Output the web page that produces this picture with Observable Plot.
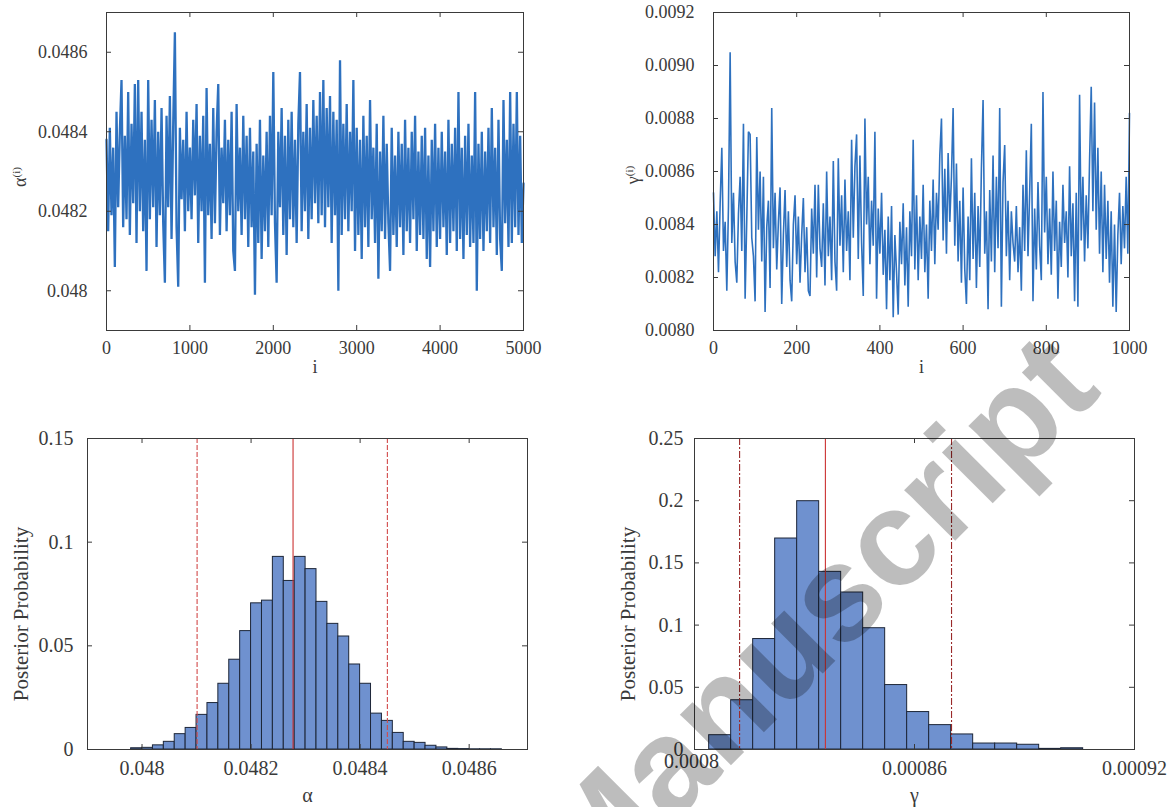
<!DOCTYPE html>
<html>
<head>
<meta charset="utf-8">
<script src="https://cdn.jsdelivr.net/npm/d3@7"></script>
<script src="https://cdn.jsdelivr.net/npm/@observablehq/plot@0.6"></script>
<style>
  html, body { margin: 0; padding: 0; background: #fff; }
  #root { position: relative; width: 1169px; height: 807px; overflow: hidden; background: #fff; }
  #root svg { overflow: visible; }
</style>
</head>
<body>
<div id="root"></div>
<script>
// ---------------- DATA ----------------
const alphaStep = 20;
const alphaTrace = [
  0.04838, 0.04815, 0.04841, 0.04819, 0.04836, 0.04806, 0.04845, 0.04821, 0.04840, 0.04853, 0.04816,
  0.04839, 0.04818, 0.04850, 0.04814, 0.04842, 0.04822, 0.04852, 0.04812, 0.04853, 0.04820,
  0.04845, 0.04815, 0.04838, 0.04805, 0.04853, 0.04818, 0.04843, 0.04821, 0.04848, 0.04811,
  0.04840, 0.04819, 0.04846, 0.04817, 0.04802, 0.04844, 0.04821, 0.04849, 0.04813, 0.04842,
  0.04865, 0.04816, 0.04801, 0.04841, 0.04823, 0.04838, 0.04815, 0.04845, 0.04820, 0.04836,
  0.04818, 0.04843, 0.04824, 0.04847, 0.04812, 0.04839, 0.04820, 0.04844, 0.04802, 0.04851,
  0.04819, 0.04837, 0.04813, 0.04846, 0.04817, 0.04840, 0.04852, 0.04814, 0.04836, 0.04822,
  0.04843, 0.04815, 0.04838, 0.04819, 0.04845, 0.04810, 0.04805, 0.04847, 0.04820, 0.04836,
  0.04814, 0.04844, 0.04818, 0.04839, 0.04811, 0.04841, 0.04816, 0.04835, 0.04799, 0.04837,
  0.04812, 0.04843, 0.04808, 0.04834, 0.04815, 0.04840, 0.04811, 0.04844, 0.04819, 0.04855,
  0.04817, 0.04802, 0.04840, 0.04821, 0.04846, 0.04814, 0.04839, 0.04809, 0.04843, 0.04818,
  0.04845, 0.04816, 0.04838, 0.04812, 0.04842, 0.04855, 0.04815, 0.04840, 0.04820, 0.04847,
  0.04813, 0.04841, 0.04818, 0.04848, 0.04822, 0.04844, 0.04817, 0.04850, 0.04819, 0.04853,
  0.04816, 0.04846, 0.04821, 0.04849, 0.04812, 0.04845, 0.04819, 0.04843, 0.04800, 0.04858,
  0.04814, 0.04842, 0.04818, 0.04847, 0.04815, 0.04840, 0.04820, 0.04853, 0.04810, 0.04841,
  0.04814, 0.04838, 0.04808, 0.04844, 0.04816, 0.04839, 0.04811, 0.04848, 0.04818, 0.04836,
  0.04812, 0.04842, 0.04803, 0.04835, 0.04815, 0.04844, 0.04813, 0.04837, 0.04817, 0.04805,
  0.04841, 0.04814, 0.04834, 0.04811, 0.04840, 0.04816, 0.04837, 0.04809, 0.04843, 0.04815,
  0.04836, 0.04812, 0.04840, 0.04818, 0.04844, 0.04810, 0.04835, 0.04814, 0.04839, 0.04813,
  0.04841, 0.04808, 0.04834, 0.04806, 0.04838, 0.04815, 0.04842, 0.04811, 0.04836, 0.04813,
  0.04840, 0.04816, 0.04835, 0.04809, 0.04843, 0.04812, 0.04837, 0.04815, 0.04841, 0.04810,
  0.04850, 0.04813, 0.04836, 0.04808, 0.04839, 0.04814, 0.04842, 0.04811, 0.04834, 0.04812,
  0.04850, 0.04800, 0.04837, 0.04813, 0.04840, 0.04810, 0.04835, 0.04815, 0.04841, 0.04812,
  0.04846, 0.04816, 0.04836, 0.04809, 0.04843, 0.04813, 0.04805, 0.04848, 0.04817, 0.04838,
  0.04811, 0.04850, 0.04812, 0.04842, 0.04816, 0.04850, 0.04814, 0.04839, 0.04812, 0.04827
];

// MCMC trace of gamma (sampled every gammaStep iterations)
const gammaStep = 4;
const gammaTrace = [
  0.00852, 0.00828, 0.00845, 0.00822, 0.00848, 0.00869, 0.00830, 0.00841, 0.00815, 0.00847,
  0.00905, 0.00833, 0.00852, 0.00826, 0.00818, 0.00844, 0.00858, 0.00830, 0.00878, 0.00812,
  0.00842, 0.00875, 0.00874, 0.00835, 0.00828, 0.00811, 0.00873, 0.00838, 0.00860, 0.00826,
  0.00858, 0.00807, 0.00839, 0.00849, 0.00816, 0.00884, 0.00831, 0.00852, 0.00823, 0.00841,
  0.00854, 0.00810, 0.00836, 0.00853, 0.00824, 0.00845, 0.00819, 0.00811, 0.00840, 0.00851,
  0.00825, 0.00843, 0.00818, 0.00836, 0.00850, 0.00822, 0.00839, 0.00815, 0.00813, 0.00846,
  0.00829, 0.00855, 0.00820, 0.00855, 0.00831, 0.00824, 0.00848, 0.00817, 0.00860, 0.00828,
  0.00843, 0.00819, 0.00864, 0.00826, 0.00815, 0.00865, 0.00832, 0.00851, 0.00822, 0.00857,
  0.00830, 0.00845, 0.00819, 0.00872, 0.00835, 0.00862, 0.00874, 0.00827, 0.00866, 0.00833,
  0.00813, 0.00880, 0.00840, 0.00858, 0.00825, 0.00849, 0.00832, 0.00875, 0.00812, 0.00846,
  0.00829, 0.00852, 0.00821, 0.00838, 0.00808, 0.00843, 0.00819, 0.00847, 0.00805, 0.00836,
  0.00822, 0.00806, 0.00841, 0.00825, 0.00848, 0.00817, 0.00839, 0.00809, 0.00845, 0.00828,
  0.00872, 0.00823, 0.00851, 0.00819, 0.00843, 0.00827, 0.00855, 0.00822, 0.00840, 0.00812,
  0.00849, 0.00830, 0.00857, 0.00825, 0.00852, 0.00838, 0.00866, 0.00880, 0.00834, 0.00861,
  0.00829, 0.00867, 0.00841, 0.00858, 0.00884, 0.00832, 0.00863, 0.00826, 0.00849, 0.00818,
  0.00854, 0.00823, 0.00810, 0.00843, 0.00819, 0.00865, 0.00827, 0.00852, 0.00816, 0.00847,
  0.00824, 0.00861, 0.00887, 0.00829, 0.00845, 0.00808, 0.00853, 0.00826, 0.00866, 0.00822,
  0.00858, 0.00831, 0.00884, 0.00809, 0.00856, 0.00870, 0.00828, 0.00849, 0.00819, 0.00845,
  0.00833, 0.00826, 0.00847, 0.00822, 0.00839, 0.00815, 0.00855, 0.00830, 0.00868, 0.00828,
  0.00852, 0.00878, 0.00811, 0.00846, 0.00823, 0.00856, 0.00832, 0.00819, 0.00890, 0.00837,
  0.00858, 0.00825, 0.00846, 0.00821, 0.00860, 0.00830, 0.00849, 0.00812, 0.00841, 0.00824,
  0.00855, 0.00833, 0.00845, 0.00820, 0.00862, 0.00828, 0.00848, 0.00811, 0.00852, 0.00809,
  0.00889, 0.00834, 0.00858, 0.00826, 0.00851, 0.00831, 0.00864, 0.00892, 0.00845, 0.00886,
  0.00838, 0.00869, 0.00829, 0.00860, 0.00822, 0.00855, 0.00827, 0.00849, 0.00818, 0.00845,
  0.00809, 0.00840, 0.00807, 0.00836, 0.00852, 0.00825, 0.00847, 0.00831, 0.00858, 0.00829, 0.00882
];

// Posterior histogram of alpha
const alphaBinEdges = [0.04798, 0.04800, 0.04802, 0.04804, 0.04806, 0.04808, 0.04810, 0.04812,
  0.04814, 0.04816, 0.04818, 0.04820, 0.04822, 0.04824, 0.04826, 0.04828, 0.04830, 0.04832,
  0.04834, 0.04836, 0.04838, 0.04840, 0.04842, 0.04844, 0.04846, 0.04848, 0.04850, 0.04852,
  0.04854, 0.04856, 0.04858, 0.04860, 0.04862, 0.04864, 0.04866];
const alphaProb = [0.0006, 0.0008, 0.0020, 0.0037, 0.0074, 0.0104, 0.0167, 0.0224, 0.0317,
  0.0433, 0.0571, 0.0705, 0.0718, 0.0929, 0.0813, 0.0929, 0.0870, 0.0712, 0.0606, 0.0545,
  0.0410, 0.0317, 0.0173, 0.0138, 0.0080, 0.0037, 0.0032, 0.0018, 0.0010, 0.0003, 0.0002,
  0.0001, 0.0001, 0.0001];
const alphaInterval = [0.048101, 0.048277, 0.048450]; // lower, mean, upper

// Posterior histogram of gamma
const gammaBinEdges = [0.000804, 0.000810, 0.000816, 0.000822, 0.000828, 0.000834, 0.000840,
  0.000846, 0.000852, 0.000858, 0.000864, 0.000870, 0.000876, 0.000882, 0.000888, 0.000894,
  0.000900, 0.000906];
const gammaProb = [0.0115, 0.0396, 0.0888, 0.1696, 0.1996, 0.1428, 0.1262, 0.0975, 0.0518,
  0.0301, 0.0196, 0.0121, 0.0048, 0.0048, 0.0038, 0.0005, 0.0010];
const gammaInterval = [0.0008123, 0.0008357, 0.0008701];

// Tick values and labels
const tAlphaXTicks = [0, 1000, 2000, 3000, 4000, 5000];
const tAlphaXLabels = ["0", "1000", "2000", "3000", "4000", "5000"];
const tAlphaYTicks = [0.048, 0.0482, 0.0484, 0.0486];
const tAlphaYLabels = ["0.048", "0.0482", "0.0484", "0.0486"];
const tGammaXTicks = [0, 200, 400, 600, 800, 1000];
const tGammaXLabels = ["0", "200", "400", "600", "800", "1000"];
const tGammaYTicks = [0.008, 0.0082, 0.0084, 0.0086, 0.0088, 0.009, 0.0092];
const tGammaYLabels = ["0.0080", "0.0082", "0.0084", "0.0086", "0.0088", "0.0090", "0.0092"];
const hAlphaXTicks = [0.048, 0.0482, 0.0484, 0.0486];
const hAlphaXLabels = ["0.048", "0.0482", "0.0484", "0.0486"];
const hAlphaYTicks = [0, 0.05, 0.1, 0.15];
const hAlphaYLabels = ["0", "0.05", "0.1", "0.15"];
const hGammaXTicks = [0.0008, 0.00086, 0.00092];
const hGammaXLabels = ["0.0008", "0.00086", "0.00092"];
const hGammaYTicks = [0, 0.05, 0.1, 0.15, 0.2, 0.25];
const hGammaYLabels = ["0", "0.05", "0.1", "0.15", "0.2", "0.25"];

// ---------------- STYLE ----------------
const SERIF = "'Liberation Serif', 'Times New Roman', Times, 'DejaVu Serif', 'Noto Serif', serif";
const INK = "#3a3a3a";
const TXT = "#3a3a3a";
const TRACE = "#2e71bf";
const BAR = "#6f91cf";
const BAR_EDGE = "#1d2638";
const RED = "#cc3333";

const root = document.getElementById("root");
function place(node, left, top) {
  node.style.position = "absolute";
  node.style.left = left + "px";
  node.style.top = top + "px";
  root.appendChild(node);
}
const fmt = (ticks, labels) => d => labels[ticks.indexOf(d)];

function boxTicks(xd, yd, xt, yt, wpx, hpx, len = 5) {
  const ky = (yd[1] - yd[0]) * len / hpx, kx = (xd[1] - xd[0]) * len / wpx;
  const o = {stroke: INK, strokeWidth: 1};
  return [
    Plot.ruleX(xt, {x: d => d, y1: yd[0], y2: yd[0] + ky, ...o}),
    Plot.ruleX(xt, {x: d => d, y1: yd[1], y2: yd[1] - ky, ...o}),
    Plot.ruleY(yt, {y: d => d, x1: xd[0], x2: xd[0] + kx, ...o}),
    Plot.ruleY(yt, {y: d => d, x1: xd[1], x2: xd[1] - kx, ...o})
  ];
}

function tracePanel({width, height, ml, mr, mt, mb, xd, yd, xt, xl, yt, yl, rows, fs, sw}) {
  const wpx = width - ml - mr, hpx = height - mt - mb;
  return Plot.plot({
    width, height, marginLeft: ml, marginRight: mr, marginTop: mt, marginBottom: mb,
    style: {fontFamily: SERIF, fontSize: fs + "px", color: TXT, background: "transparent", overflow: "visible"},
    x: {domain: xd}, y: {domain: yd},
    marks: [
      Plot.line(rows, {x: "i", y: "v", stroke: TRACE, strokeWidth: sw, strokeLinejoin: "bevel"}),
      Plot.frame({stroke: INK, strokeWidth: 1}),
      ...boxTicks(xd, yd, xt, yt, wpx, hpx),
      Plot.axisX(xt, {anchor: "bottom", tickSize: 0, tickPadding: 11, tickFormat: fmt(xt, xl), label: null, fontSize: fs}),
      Plot.axisY(yt, {anchor: "left", tickSize: 0, tickPadding: 19, tickFormat: fmt(yt, yl), label: null, fontSize: fs}),
      Plot.text(["i"], {frameAnchor: "bottom", lineAnchor: "middle", textAnchor: "middle", dy: 37, text: d => d, fontSize: fs, fill: TXT})
    ]
  });
}

function histPanel({width, height, ml, mr, mt, mb, xd, yd, xt, xl, yt, yl, rows, ci, ciDash, ciColor, xlab, fs, ypad, firstUp}) {
  const wpx = width - ml - mr, hpx = height - mt - mb;
  const xMain = firstUp ? xt.slice(1) : xt;
  const axes = [
    Plot.axisX(xMain, {anchor: "bottom", tickSize: 0, tickPadding: 11, tickFormat: fmt(xt, xl), label: null, fontSize: fs}),
    Plot.axisY(yt, {anchor: "left", tickSize: 0, tickPadding: ypad, tickFormat: fmt(yt, yl), label: null, fontSize: fs})
  ];
  if (firstUp) {
    axes.push(Plot.axisX(xt.slice(0, 1), {anchor: "bottom", tickSize: 0, tickPadding: 4, tickFormat: fmt(xt, xl), label: null, fontSize: fs, dx: -3}));
  }
  return Plot.plot({
    width, height, marginLeft: ml, marginRight: mr, marginTop: mt, marginBottom: mb,
    style: {fontFamily: SERIF, fontSize: fs + "px", color: TXT, background: "transparent", overflow: "visible"},
    x: {domain: xd}, y: {domain: yd},
    marks: [
      Plot.rectY(rows, {x1: "x1", x2: "x2", y: "p", fill: BAR, stroke: BAR_EDGE, strokeWidth: 1}),
      Plot.ruleX([ci[0], ci[2]], {x: d => d, stroke: ciColor, strokeWidth: 1.1, strokeDasharray: ciDash}),
      Plot.ruleX([ci[1]], {x: d => d, stroke: RED, strokeWidth: 1.1}),
      Plot.frame({stroke: INK, strokeWidth: 1}),
      ...boxTicks(xd, yd, xt, yt, wpx, hpx),
      ...axes,
      Plot.text([xlab], {frameAnchor: "bottom", lineAnchor: "middle", textAnchor: "middle", dy: 46, text: d => d, fontSize: fs, fill: TXT}),
      Plot.text(["Posterior Probability"], {frameAnchor: "left", textAnchor: "middle", lineAnchor: "middle", rotate: -90, dx: -66, dy: 20, text: d => d, fontSize: 21, fill: TXT})
    ]
  });
}

const alphaRows = alphaTrace.map((v, k) => ({i: k * alphaStep, v}));
const gammaRows = gammaTrace.map((v, k) => ({i: k * gammaStep, v}));
const alphaBins = alphaProb.map((p, k) => ({x1: alphaBinEdges[k], x2: alphaBinEdges[k + 1], p}));
const gammaBins = gammaProb.map((p, k) => ({x1: gammaBinEdges[k], x2: gammaBinEdges[k + 1], p}));

// Top-left: alpha trace
place(tracePanel({width: 580, height: 400, ml: 106, mr: 57, mt: 12, mb: 70,
  xd: [0, 5000], yd: [0.0479, 0.0487], xt: tAlphaXTicks, xl: tAlphaXLabels,
  yt: tAlphaYTicks, yl: tAlphaYLabels, rows: alphaRows, fs: 18, sw: 2.3}), 0, 0);

// Top-right: gamma trace
place(tracePanel({width: 589, height: 400, ml: 133, mr: 40, mt: 12, mb: 70,
  xd: [0, 1000], yd: [0.008, 0.0092], xt: tGammaXTicks, xl: tGammaXLabels,
  yt: tGammaYTicks, yl: tGammaYLabels, rows: gammaRows, fs: 18, sw: 1.6}), 580, 0);

// Bottom-left: alpha histogram
place(histPanel({width: 580, height: 407, ml: 87, mr: 53, mt: 38, mb: 58,
  xd: [0.0479, 0.048707], yd: [0, 0.15], xt: hAlphaXTicks, xl: hAlphaXLabels,
  yt: hAlphaYTicks, yl: hAlphaYLabels, rows: alphaBins, ci: alphaInterval,
  ciDash: "5,2", ciColor: "#d24a4a", xlab: "α", fs: 20, ypad: 14, firstUp: false}), 0, 400);

// Bottom-right: gamma histogram
place(histPanel({width: 589, height: 407, ml: 114, mr: 35, mt: 38, mb: 58,
  xd: [0.0008, 0.00092], yd: [0, 0.25], xt: hGammaXTicks, xl: hGammaXLabels,
  yt: hGammaYTicks, yl: hGammaYLabels, rows: gammaBins, ci: gammaInterval,
  ciDash: "7,2,2,2", ciColor: "#9a2a2a", xlab: "γ", fs: 20, ypad: 11, firstUp: true}), 580, 400);

// Rotated y-axis titles with superscripts for the trace panels
function yLabel(html, cx, cy, size) {
  const d = document.createElement("div");
  d.innerHTML = html;
  Object.assign(d.style, {
    position: "absolute", left: cx + "px", top: cy + "px",
    transform: "translate(-50%, -50%) rotate(-90deg)",
    fontFamily: SERIF, fontSize: size + "px", color: TXT, whiteSpace: "nowrap", lineHeight: "1"
  });
  root.appendChild(d);
}
yLabel('α<sup style="font-size:0.62em;vertical-align:0.55em">(i)</sup>', 20, 177, 18);
yLabel('γ<sup style="font-size:0.62em;vertical-align:0.55em">(i)</sup>', 633, 175, 18);

// Watermark overlay
const wm = d3.select("#root").append("svg")
  .attr("width", 1169).attr("height", 807)
  .style("position", "absolute").style("left", "0px").style("top", "0px")
  .style("pointer-events", "none");
wm.append("text")
  .attr("transform", "translate(822,624) rotate(-45)")
  .attr("text-anchor", "middle")
  .attr("dy", "0.26em")
  .attr("font-family", "'Liberation Sans', Arial, sans-serif")
  .attr("font-weight", "bold")
  .attr("font-size", 136)
  .attr("fill", "#000")
  .attr("fill-opacity", 0.26)
  .text("Manuscript");
</script>
</body>
</html>
